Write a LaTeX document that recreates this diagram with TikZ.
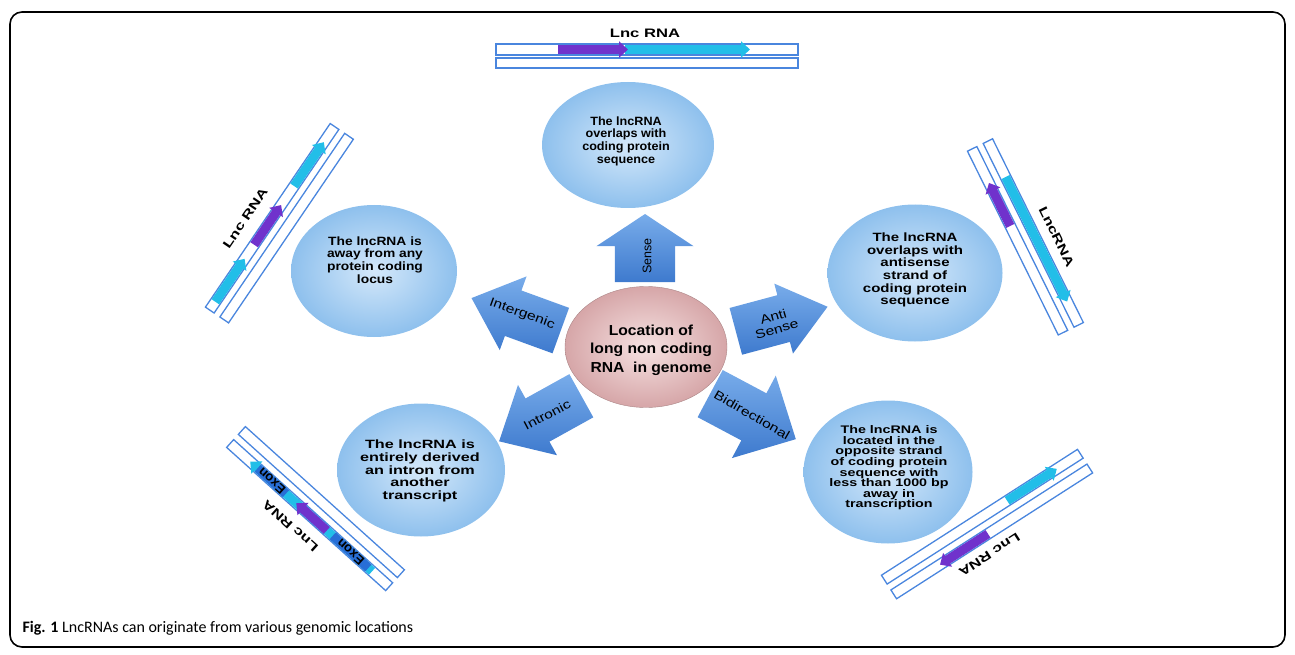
\documentclass[tikz,border=0pt]{standalone}
\usepackage{fontspec}
\setmainfont{Liberation Sans}
\newfontfamily\capfont{Carlito}
\usetikzlibrary{shapes.geometric,shapes.arrows,arrows.meta}
\definecolor{bubbleIn}{RGB}{212,232,250}
\definecolor{bubbleOut}{RGB}{142,192,237}
\definecolor{coreIn}{RGB}{246,226,226}
\definecolor{coreOut}{RGB}{214,166,168}
\definecolor{wayTop}{RGB}{120,172,234}
\definecolor{wayBot}{RGB}{62,122,206}
\definecolor{strandblue}{RGB}{74,134,222}
\definecolor{rnacyan}{RGB}{34,190,232}
\definecolor{rnapurple}{RGB}{112,50,204}
\definecolor{exonblue}{RGB}{40,110,214}

\begin{document}
\begin{tikzpicture}[x=1pt,y=-1pt,
    bubble/.style={ellipse,inner color=bubbleIn,outer color=bubbleOut,inner sep=0},
    bubbletext/.style={align=center,font=\fontsize{12}{12.6}\selectfont\bfseries\addfontfeatures{FakeStretch=#1}},
    core/.style={ellipse,inner color=coreIn,outer color=coreOut,draw=coreOut!80!black,line width=0.4,inner sep=0},
    way/.style={single arrow,top color=wayTop,bottom color=wayBot,inner xsep=0,minimum width=0},
    waytext/.style={align=center,font=\fontsize{12.5}{13}\selectfont\addfontfeatures{FakeStretch=1.25}},
    strand/.style={draw=strandblue,line width=1.3},
    rna/.style={draw=#1,line width=9,-{Triangle[width=16pt,length=9pt]}},
    tag/.style={font=\fontsize{12.3}{13}\selectfont\bfseries\addfontfeatures{FakeStretch=1.35}}]
    \useasboundingbox (0,0) rectangle (1295,655);
    \draw[line width=1.6,rounded corners=12] (10,12) rectangle (1285,647);

    % centre and the five locations
    \node[core,minimum width=162,minimum height=121] (core) at (646,347) {};
    \node[align=center,font=\fontsize{14.5}{18.5}\selectfont\bfseries\addfontfeatures{FakeStretch=1.08}] (coreText) at (651,350)
        {Location of\\long non coding\\RNA\ \ in genome};

    \node[bubble,minimum width=172,minimum height=126] (overlap) at (628,145) {};
    \node[bubbletext=1.05] (overlapText) at (626,141) {The lncRNA\\overlaps with\\coding protein\\sequence};
    \node[bubble,minimum width=166,minimum height=132] (away) at (374,271) {};
    \node[bubbletext=1.15] (awayText) at (375,260) {The lncRNA is\\away from any\\protein coding\\locus};
    \node[bubble,minimum width=175,minimum height=137] (anti) at (915,273) {};
    \node[bubbletext=1.25] (antiText) at (915,270) {The lncRNA\\overlaps with\\antisense\\strand of\\coding protein\\sequence};
    \node[bubble,minimum width=168,minimum height=133] (intron) at (421,470) {};
    \node[bubbletext=1.35] (intronText) at (420,471) {The lncRNA is\\entirely derived\\an intron from\\another\\transcript};
    \node[bubble,minimum width=169,minimum height=143] (bidir) at (888,472) {};
    \node[align=center,font=\fontsize{11}{10.6}\selectfont\bfseries\addfontfeatures{FakeStretch=1.3}] (bidirText) at (889,468)
        {The lncRNA is\\located in the\\opposite strand\\of coding protein\\sequence with\\less than 1000 bp\\away in\\transcription};

    % block arrows
    \node[way,rotate=90,minimum height=68,inner ysep=30,single arrow head extend=18.5,single arrow tip angle=113] (sense) at (645,258) {};
    \node[rotate=90,font=\fontsize{12.5}{13}\selectfont] (senseText) at (647,256) {Sense};
    \node[way,rotate=160,minimum height=95,inner ysep=24,single arrow head extend=15,single arrow tip angle=83] (intergenic) at (529,319) {};
    \node[waytext,rotate=-20] (intergenicText) at (522,314) {Intergenic};
    \node[way,rotate=15,minimum height=95,inner ysep=24,single arrow head extend=12,single arrow tip angle=77] (antisense) at (767,323) {};
    \node[waytext,rotate=16] (antisenseText) at (775,323) {Anti\\Sense};
    \node[way,rotate=209,minimum height=94,inner ysep=24.5,single arrow head extend=15.5,single arrow tip angle=85] (intronic) at (552,412) {};
    \node[waytext,rotate=28] (intronicText) at (547,415) {Intronic};
    \node[way,rotate=-28,minimum height=97,inner ysep=26.5,single arrow head extend=20,single arrow tip angle=89] (bidirectional) at (741,410) {};
    \node[waytext,rotate=-30] (bidirectionalText) at (752,415) {Bidirectional};

    % the five strand pairs
    \begin{scope}[shift={(496,56.5)}]
        \draw[strand] (0,-12.5) rectangle (302,-1.5);
        \draw[strand] (0,1.5) rectangle (302,11.5);
        \draw[rna=rnacyan] (129,-7) -- (254,-7);
        \draw[rna=rnapurple] (62,-7) -- (132,-7);
        \node[tag] (senseTag) at (149,-23) {Lnc RNA};
    \end{scope}
    \begin{scope}[shift={(217,315)},rotate=55.8]
        \draw[strand] (0,-14) rectangle (222,-3.5);
        \draw[strand] (0,3.5) rectangle (222,14);
        \draw[rna=rnacyan] (10,-8.75) -- (62,-8.75);
        \draw[rna=rnapurple] (79,-8.75) -- (127,-8.75);
        \draw[rna=rnacyan] (150,-8.75) -- (203,-8.75);
        \node[tag,rotate=55.8] (intergenicTag) at (96,-31) {Lnc RNA};
    \end{scope}
    \begin{scope}[shift={(980,145)},rotate=-63.7]
        \draw[strand] (0,-14) rectangle (205,-3.5);
        \draw[strand] (0,3.5) rectangle (205,14);
        \draw[rna=rnacyan] (40,-8.75) -- (179,-8.75);
        \draw[rna=rnapurple] (86,8.75) -- (38,8.75);
        \node[tag,rotate=-63.7] (antiTag) at (116,-28) {LncRNA};
    \end{scope}
    \begin{scope}[shift={(236,437)},rotate=-42]
        \draw[strand] (0,-14) rectangle (214,-3.5);
        \draw[strand] (0,3.5) rectangle (214,14);
        \draw[rna=rnacyan] (191,8.75) -- (27,8.75);
        \fill[exonblue] (37,4.25) rectangle (75,13.25);
        \fill[exonblue] (138,4.25) rectangle (186,13.25);
        \node[rotate=138,font=\fontsize{13}{13}\selectfont\bfseries] (exonA) at (56,8.75) {Exon};
        \node[rotate=138,font=\fontsize{13}{13}\selectfont\bfseries] (exonB) at (162,8.75) {Exon};
        \draw[rna=rnapurple] (130,8.75) -- (89,8.75);
        \node[tag,rotate=138] (intronTag) at (100,30) {Lnc RNA};
    \end{scope}
    \begin{scope}[shift={(889,587)},rotate=32.7]
        \draw[strand] (0,-14) rectangle (233,-3.5);
        \draw[strand] (0,3.5) rectangle (233,14);
        \draw[rna=rnacyan] (146,-8.75) -- (205,-8.75);
        \draw[rna=rnapurple] (112,8.75) -- (55,8.75);
        \node[tag,rotate=-147.3] (bidirTag) at (102,27) {Lnc RNA};
    \end{scope}

    \node[anchor=west,font=\capfont\fontsize{16}{18}\selectfont] (caption) at (19,628)
        {\textbf{Fig. 1} LncRNAs can originate from various genomic locations};
\end{tikzpicture}
\end{document}
